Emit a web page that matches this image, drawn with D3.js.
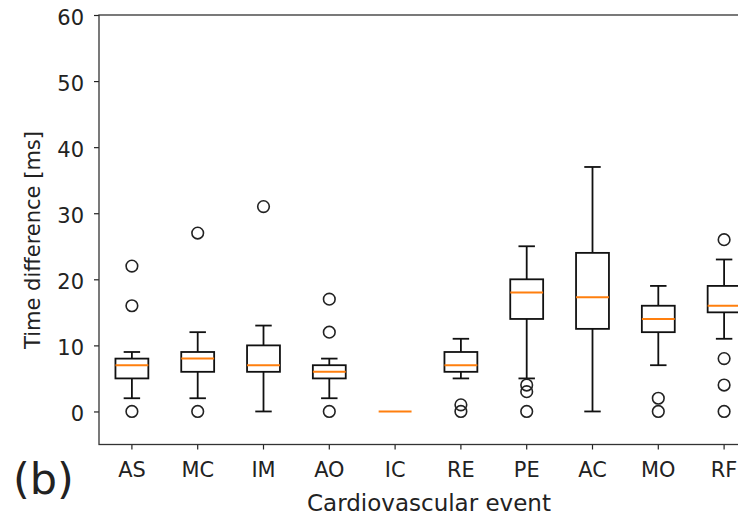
<!DOCTYPE html>
<html>
<head>
<meta charset="utf-8">
<script src="https://cdn.jsdelivr.net/npm/d3@7"></script>
<style>
  body { margin: 0; background: #fff; }
  text { font-family: "DejaVu Sans", sans-serif; fill: #222; }
</style>
</head>
<body>
<div id="container"></div>
<script>
/* DATA (box plot stats) */
const events = ["AS", "MC", "IM", "AO", "IC", "RE", "PE", "AC", "MO", "RF"]
const whiskerLow  = [2, 2, 0, 2, 0, 5, 5, 0, 7, 11]
const q1          = [5, 6, 6, 5, 0, 6, 14, 12.5, 12, 15]
const median      = [7, 8, 7, 6, 0, 7, 18, 17.3, 14, 16]
const q3          = [8, 9, 10, 7, 0, 9, 20, 24, 16, 19]
const whiskerHigh = [9, 12, 13, 8, 0, 11, 25, 37, 19, 23]
const outliers = [
  [0, 16, 22],
  [0, 27],
  [31],
  [0, 12, 17],
  [],
  [0, 1],
  [0, 3, 4],
  [],
  [0, 2],
  [0, 4, 8, 26]
]
const yTicks = [0, 10, 20, 30, 40, 50, 60]

/* CONSTANTS */
const width = 738,
  height = 519,
  plotLeft = 99, plotRight = 757, plotTop = 15, plotBottom = 444.5

const data = events.map((e, i) => ({
  event: e,
  lo: whiskerLow[i], q1: q1[i], med: median[i], q3: q3[i], hi: whiskerHigh[i],
  fliers: outliers[i]
}))

const svg = d3.select("#container")
  .append("svg")
  .attr("width", width)
  .attr("height", height)

/* SCALES */
const xScale = d3.scaleBand()
  .domain(events)
  .range([plotLeft, plotRight])
  .padding(0)

const yScale = d3.scaleLinear()
  .domain([-5, 60])
  .range([plotBottom, plotTop])

const bw = xScale.bandwidth()
const boxW = bw * 0.5
const capW = bw * 0.25
const cx = d => xScale(d.event) + bw / 2

/* AXES */
const xAxis = svg.append("g")
  .attr("transform", `translate(0,${plotBottom})`)
  .call(d3.axisBottom(xScale).tickSize(5).tickPadding(12).tickSizeOuter(0))
xAxis.select(".domain").remove()
xAxis.selectAll("line").attr("stroke", "#222").attr("stroke-width", 1.2)
xAxis.selectAll("text")
  .style("font-size", "22px")
  .attr("fill", "#222")
  .attr("transform", "scale(0.95,1)")

const yAxis = svg.append("g")
  .attr("transform", `translate(${plotLeft},0)`)
  .call(d3.axisLeft(yScale).tickValues(yTicks).tickSize(5).tickPadding(10).tickSizeOuter(0))
yAxis.select(".domain").remove()
yAxis.selectAll("line").attr("stroke", "#222").attr("stroke-width", 1.2)
yAxis.selectAll("text")
  .style("font-size", "21px")
  .attr("fill", "#222")
  .attr("dy", "0.45em")

// spines (right one falls outside the picture)
svg.append("rect")
  .attr("x", plotLeft)
  .attr("y", plotTop)
  .attr("width", plotRight - plotLeft)
  .attr("height", plotBottom - plotTop)
  .attr("fill", "none")
  .attr("stroke", "#333")
  .attr("stroke-width", 1.3)

/* BOXES */
const g = svg.selectAll(".box")
  .data(data)
  .join("g")
  .attr("class", "box")

// whiskers and caps (skipped when the whole box collapses to one value)
const spread = g.filter(d => d.hi > d.lo)
spread.append("line")
  .attr("x1", cx).attr("x2", cx)
  .attr("y1", d => yScale(d.q1)).attr("y2", d => yScale(d.lo))
spread.append("line")
  .attr("x1", cx).attr("x2", cx)
  .attr("y1", d => yScale(d.q3)).attr("y2", d => yScale(d.hi))
spread.append("line")
  .attr("x1", d => cx(d) - capW / 2).attr("x2", d => cx(d) + capW / 2)
  .attr("y1", d => yScale(d.lo)).attr("y2", d => yScale(d.lo))
spread.append("line")
  .attr("x1", d => cx(d) - capW / 2).attr("x2", d => cx(d) + capW / 2)
  .attr("y1", d => yScale(d.hi)).attr("y2", d => yScale(d.hi))
g.selectAll("line").attr("stroke", "#111").attr("stroke-width", 1.8)

// box
g.filter(d => d.q3 > d.q1).append("rect")
  .attr("x", d => cx(d) - boxW / 2)
  .attr("y", d => yScale(d.q3))
  .attr("width", boxW)
  .attr("height", d => yScale(d.q1) - yScale(d.q3))
  .attr("fill", "none")
  .attr("stroke", "#111")
  .attr("stroke-width", 1.8)

// median
g.append("line")
  .attr("x1", d => cx(d) - boxW / 2).attr("x2", d => cx(d) + boxW / 2)
  .attr("y1", d => yScale(d.med)).attr("y2", d => yScale(d.med))
  .attr("stroke", "#ff7f0e")
  .attr("stroke-width", 2)

// outliers
g.selectAll(".flier")
  .data(d => d.fliers.map(v => ({ event: d.event, v })))
  .join("circle")
  .attr("class", "flier")
  .attr("cx", cx)
  .attr("cy", d => yScale(d.v))
  .attr("r", 5.8)
  .attr("fill", "none")
  .attr("stroke", "#222")
  .attr("stroke-width", 1.6)

/* LABELS */
svg.append("text")
  .attr("x", 429)
  .attr("y", 511)
  .attr("text-anchor", "middle")
  .style("font-size", "23px")
  .text("Cardiovascular event")

svg.append("text")
  .attr("transform", "translate(40,240) rotate(-90)")
  .attr("text-anchor", "middle")
  .style("font-size", "21px")
  .text("Time difference [ms]")

svg.append("text")
  .attr("x", 13)
  .attr("y", 494)
  .style("font-size", "43px")
  .attr("fill", "#000")
  .text("(b)")
</script>
</body>
</html>
